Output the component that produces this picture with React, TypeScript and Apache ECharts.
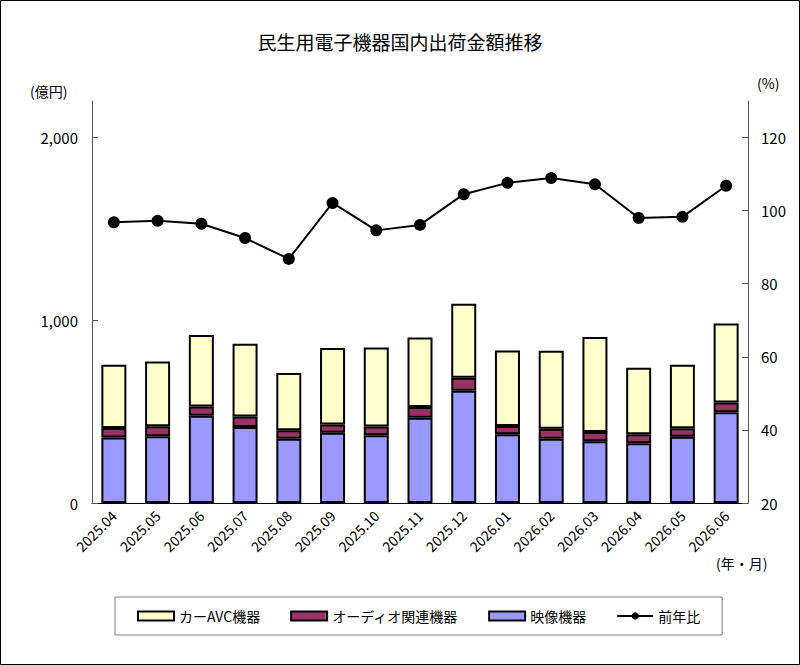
import React, { useEffect, useRef } from 'react';
import * as echarts from 'echarts';

const categories = [
  '2025.04', '2025.05', '2025.06', '2025.07', '2025.08', '2025.09', '2025.10', '2025.11',
  '2025.12', '2026.01', '2026.02', '2026.03', '2026.04', '2026.05', '2026.06',
];
// 億円
const videoValues = [358, 365, 477, 416, 352, 384, 371, 467, 614, 376, 352, 338, 327, 363, 497];
const audioValues = [53, 55, 51, 57, 46, 45, 47, 59, 71, 46, 55, 51, 49, 46, 53];
const carAvcValues = [345, 354, 392, 398, 314, 419, 433, 380, 405, 413, 426, 519, 364, 347, 432];
// %
const yoyValues = [96.8, 97.2, 96.4, 92.5, 86.8, 102.1, 94.6, 96.1, 104.5, 107.6, 108.9, 107.2, 98.0, 98.3, 106.8];

const FONT = '"Noto Sans CJK JP", "Noto Sans", sans-serif';

export default function App() {
  const elRef = useRef<HTMLDivElement>(null);

  useEffect(() => {
    document.body.style.margin = '0';
    if (!elRef.current) return;
    const chart = echarts.init(elRef.current, null, { renderer: 'svg' });

    const barBorder = { borderColor: '#000', borderWidth: 2 };

    chart.setOption({
      animation: false,
      textStyle: { fontFamily: FONT, color: '#000' },
      title: {
        text: '民生用電子機器国内出荷金額推移',
        left: 'center',
        top: 27,
        textStyle: { fontFamily: FONT, fontSize: 19, fontWeight: 'normal', color: '#000' },
      },
      grid: { left: 92, right: 52, top: 101, bottom: 162 },
      legend: {
        top: 597,
        left: 115,
        padding: [12, 22],
        itemGap: 30,
        itemWidth: 36,
        itemHeight: 9,
        borderColor: '#808080',
        borderWidth: 1,
        textStyle: { fontFamily: FONT, fontSize: 14, color: '#000' },
        data: [
          { name: 'カーAVC機器', icon: 'rect' },
          { name: 'オーディオ関連機器', icon: 'rect' },
          { name: '映像機器', icon: 'rect' },
          { name: '前年比' },
        ],
      },
      xAxis: {
        type: 'category',
        data: categories,
        axisLine: { lineStyle: { color: '#000', width: 1 } },
        axisTick: { inside: true, length: 4, lineStyle: { color: '#000' } },
        axisLabel: { rotate: 45, fontSize: 14, color: '#000', margin: 10, fontFamily: FONT },
      },
      yAxis: [
        {
          type: 'value',
          min: 0,
          max: 2200,
          interval: 1000,
          splitLine: { show: false },
          axisLine: { show: true, lineStyle: { color: '#555' } },
          axisTick: { show: true, inside: true, length: 6, lineStyle: { color: '#555' } },
          axisLabel: {
            showMaxLabel: false,
            fontSize: 15,
            color: '#000',
            margin: 14,
            fontFamily: FONT,
            formatter: (v: number) => v.toLocaleString('en-US'),
          },
        },
        {
          type: 'value',
          min: 20,
          max: 130,
          interval: 20,
          splitLine: { show: false },
          axisLine: { show: true, lineStyle: { color: '#555' } },
          axisTick: { show: true, inside: true, length: 6, lineStyle: { color: '#555' } },
          axisLabel: { showMaxLabel: false, fontSize: 15, color: '#000', margin: 13, fontFamily: FONT },
        },
      ],
      series: [
        {
          name: '映像機器',
          type: 'bar',
          stack: 'total',
          barWidth: 25,
          data: videoValues,
          itemStyle: { color: '#9999FF', ...barBorder },
        },
        {
          name: 'オーディオ関連機器',
          type: 'bar',
          stack: 'total',
          barWidth: 25,
          data: audioValues,
          itemStyle: { color: '#993366', ...barBorder },
        },
        {
          name: 'カーAVC機器',
          type: 'bar',
          stack: 'total',
          barWidth: 25,
          data: carAvcValues,
          itemStyle: { color: '#FFFFCC', ...barBorder },
        },
        {
          name: '前年比',
          type: 'line',
          yAxisIndex: 1,
          data: yoyValues,
          symbol: 'circle',
          symbolSize: 12,
          lineStyle: { color: '#000', width: 2 },
          itemStyle: { color: '#000' },
          z: 5,
        },
      ],
      graphic: [
        {
          type: 'rect',
          shape: { x: 0.5, y: 0.5, width: 799, height: 664 },
          style: { fill: 'none', stroke: '#000', lineWidth: 1 },
          silent: true,
        },
        {
          type: 'text',
          left: 30,
          top: 84,
          style: { text: '(億円)', fontFamily: FONT, fontSize: 14, fill: '#000' },
        },
        {
          type: 'text',
          left: 757,
          top: 76,
          style: { text: '(%)', fontFamily: FONT, fontSize: 14, fill: '#000' },
        },
        {
          type: 'text',
          left: 716,
          top: 556,
          style: { text: '(年・月)', fontFamily: FONT, fontSize: 14, fill: '#000' },
        },
      ],
    });

    return () => {
      chart.dispose();
    };
  }, []);

  return <div ref={elRef} style={{ width: 800, height: 665 }} />;
}
